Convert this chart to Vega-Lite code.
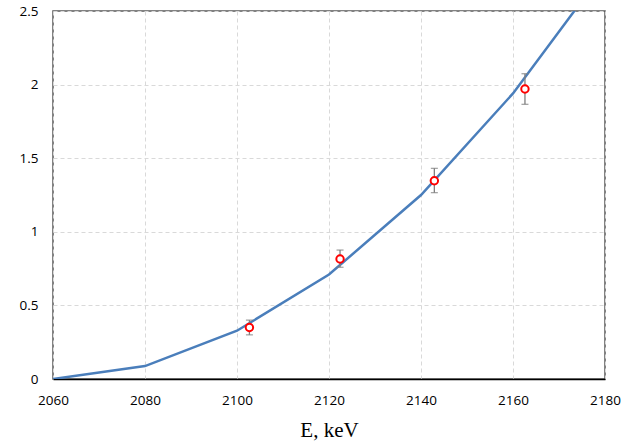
{
  "$schema": "https://vega.github.io/schema/vega-lite/v6.json",
  "autosize": {"type": "none"},
  "width": 552,
  "height": 368,
  "padding": {"left": 53, "top": 11, "right": 27, "bottom": 68},
  "background": "white",
  "config": {
    "view": {"stroke": "#595959", "strokeWidth": 1.5},
    "axis": {"labelFont": "Open Sans", "labelFontSize": 13.5, "labelColor": "#000000", "labelFlush": false, "ticks": false, "domain": false, "gridColor": "#d9d9d9", "gridDash": [4, 3], "gridWidth": 1}
  },
  "datasets": {
    "curve": [
      {"E": 2060, "v": 0.0},
      {"E": 2080, "v": 0.088},
      {"E": 2100, "v": 0.328},
      {"E": 2120, "v": 0.71},
      {"E": 2140, "v": 1.25},
      {"E": 2160, "v": 1.94},
      {"E": 2180, "v": 2.78}
    ],
    "meas": [
      {"E": 2102.7, "v": 0.35, "lo": 0.30, "hi": 0.40},
      {"E": 2122.4, "v": 0.815, "lo": 0.759, "hi": 0.876},
      {"E": 2142.9, "v": 1.347, "lo": 1.266, "hi": 1.431},
      {"E": 2162.6, "v": 1.97, "lo": 1.866, "hi": 2.074}
    ]
  },
  "layer": [
    {
      "data": {"name": "curve"},
      "mark": {"type": "line", "color": "#4a7ebb", "strokeWidth": 2.5, "clip": true},
      "encoding": {
        "x": {"field": "E", "type": "quantitative", "scale": {"domain": [2060, 2180], "nice": false, "zero": false},
          "axis": {"values": [2060, 2080, 2100, 2120, 2140, 2160, 2180], "title": "E, keV", "titleFont": "Liberation Serif", "titleFontSize": 21, "titleFontWeight": "normal", "titleColor": "#000000", "titlePadding": 13, "labelPadding": 14, "format": "d", "domain": true, "domainColor": "#000000", "domainWidth": 1.5}},
        "y": {"field": "v", "type": "quantitative", "scale": {"domain": [0, 2.5], "nice": false},
          "axis": {"values": [0, 0.5, 1, 1.5, 2, 2.5], "format": "~g", "title": null, "labelPadding": 15}}
      }
    },
    {
      "data": {"name": "meas"},
      "mark": {"type": "rule", "color": "#7f7f7f", "strokeWidth": 1.3},
      "encoding": {
        "x": {"field": "E", "type": "quantitative"},
        "y": {"field": "lo", "type": "quantitative"},
        "y2": {"field": "hi"}
      }
    },
    {
      "data": {"name": "meas"},
      "mark": {"type": "tick", "color": "#7f7f7f", "orient": "horizontal", "size": 7, "thickness": 1.3},
      "encoding": {
        "x": {"field": "E", "type": "quantitative"},
        "y": {"field": "lo", "type": "quantitative"}
      }
    },
    {
      "data": {"name": "meas"},
      "mark": {"type": "tick", "color": "#7f7f7f", "orient": "horizontal", "size": 7, "thickness": 1.3},
      "encoding": {
        "x": {"field": "E", "type": "quantitative"},
        "y": {"field": "hi", "type": "quantitative"}
      }
    },
    {
      "data": {"name": "meas"},
      "mark": {"type": "point", "shape": "circle", "filled": false, "fill": "white", "fillOpacity": 1, "stroke": "#ff0000", "strokeWidth": 2, "size": 55, "opacity": 1},
      "encoding": {
        "x": {"field": "E", "type": "quantitative"},
        "y": {"field": "v", "type": "quantitative"}
      }
    }
  ]
}
